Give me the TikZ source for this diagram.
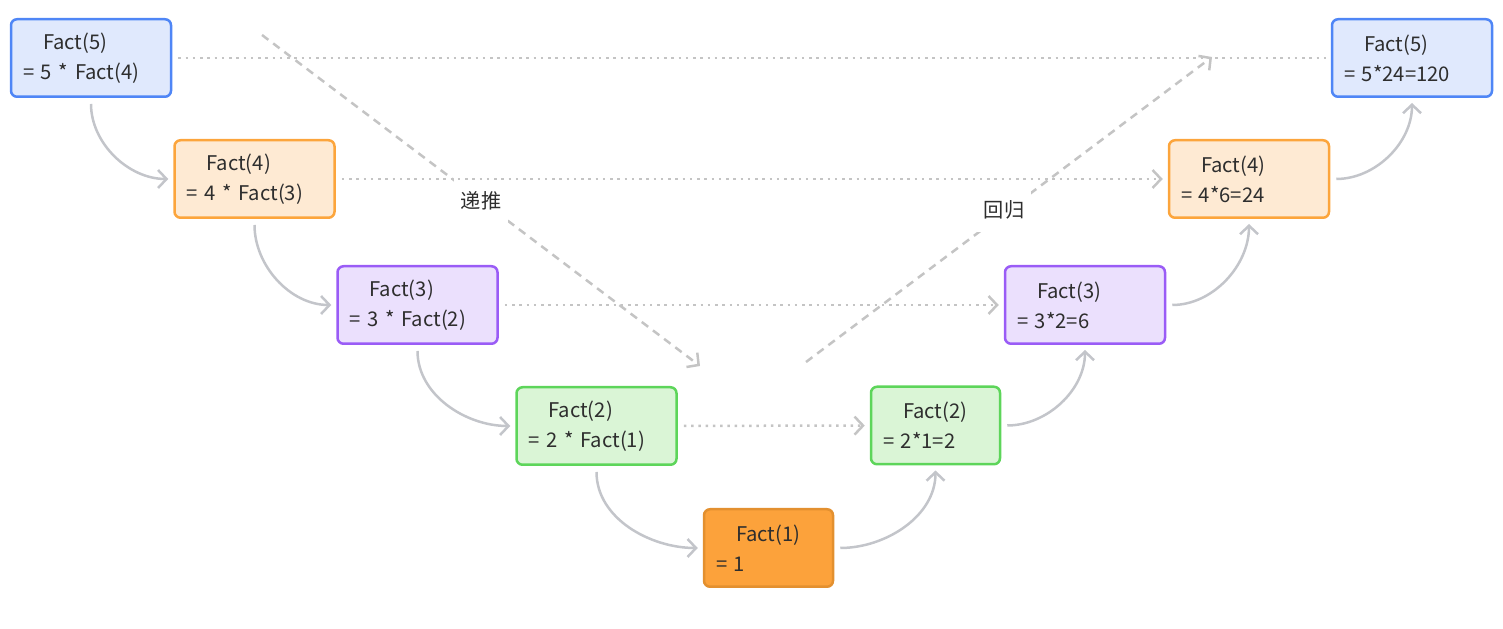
\documentclass[tikz,border=0pt]{standalone}
\usepackage{fontspec}
\setmainfont{Noto Sans CJK SC}
\usetikzlibrary{arrows.meta}

\definecolor{bluefill}{HTML}{E0E9FD}
\definecolor{bluedraw}{HTML}{4F86F6}
\definecolor{orangefill}{HTML}{FEEAD3}
\definecolor{orangedraw}{HTML}{FCA53C}
\definecolor{purplefill}{HTML}{EBE0FD}
\definecolor{purpledraw}{HTML}{9A5CF6}
\definecolor{greenfill}{HTML}{DAF5D6}
\definecolor{greendraw}{HTML}{5DD55A}
\definecolor{basefill}{HTML}{FCA23B}
\definecolor{basedraw}{HTML}{E3902F}
\definecolor{linkgray}{HTML}{C3C5CA}
\definecolor{dotgray}{HTML}{C4C4C4}
\definecolor{txtgray}{HTML}{2E2E2E}

\def\fact#1#2{\hspace*{0.4cm}Fact(#1)\\#2}

\tikzset{
  fbox/.style={draw, rounded corners=0.12cm, line width=0.05cm, minimum height=1.55cm,
    align=left, inner xsep=0.24cm, inner ysep=0.1cm, text=txtgray,
    font=\fontsize{11.5pt}{17pt}\selectfont},
  widebox/.style={fbox, text width=2.72cm},
  slimbox/.style={fbox, text width=2.1cm},
  bluebox/.style={fill=bluefill, draw=bluedraw},
  orangebox/.style={fill=orangefill, draw=orangedraw},
  purplebox/.style={fill=purplefill, draw=purpledraw},
  greenbox/.style={fill=greenfill, draw=greendraw},
  basebox/.style={fill=basefill, draw=basedraw},
  tip/.style={-{Straight Barb[length=0.17cm,width=0.36cm]}},
  flow/.style={draw=linkgray, line width=0.05cm, tip, shorten <=0.12cm, shorten >=0.1cm},
  pass/.style={draw=dotgray, line width=0.05cm, dash pattern=on 0.05cm off 0.095cm,
    shorten <=0.12cm, shorten >=0.1cm},
  trend/.style={draw=dotgray, line width=0.05cm, dash pattern=on 0.16cm off 0.12cm, tip},
  trendlabel/.style={fill=white, inner xsep=0.14cm, inner ysep=0.26cm, text=txtgray,
    font=\fontsize{11.5pt}{13pt}\selectfont}
}

\begin{document}
\begin{tikzpicture}
  \useasboundingbox (0,0) rectangle (30.06,12.56);

  % descending side
  \node[widebox, bluebox]   (l5) at (1.82,11.4)  {\fact{5}{= 5 * Fact(4)}};
  \node[widebox, orangebox] (l4) at (5.09,8.98)  {\fact{4}{= 4 * Fact(3)}};
  \node[widebox, purplebox] (l3) at (8.35,6.46)  {\fact{3}{= 3 * Fact(2)}};
  \node[widebox, greenbox]  (l2) at (11.93,4.04) {\fact{2}{= 2 * Fact(1)}};
  \node[slimbox, basebox]   (f1) at (15.37,1.6)  {\fact{1}{= 1}};

  % ascending side
  \node[slimbox, greenbox]  (r2) at (18.71,4.05) {\fact{2}{= 2*1=2}};
  \node[widebox, purplebox] (r3) at (21.70,6.46) {\fact{3}{= 3*2=6}};
  \node[widebox, orangebox] (r4) at (24.98,8.98) {\fact{4}{= 4*6=24}};
  \node[widebox, bluebox]   (r5) at (28.24,11.4) {\fact{5}{= 5*24=120}};

  % big trend arrows
  \coordinate (downA) at (5.24,11.86);
  \coordinate (downB) at (14.0,5.24);
  \coordinate (upA) at (16.12,5.32);
  \coordinate (upB) at (24.24,11.42);
  \draw[trend] (downA) -- node[trendlabel] {递推} (downB);
  \draw[trend] (upA) -- node[trendlabel, xshift=-0.1cm] {回归} (upB);

  % waiting results
  \draw[pass] (l5) -- (r5);
  \draw[pass, tip] (l4) -- (r4);
  \draw[pass, tip] (l3) -- (r3);
  \draw[pass, tip] (l2) -- (r2);

  % calls
  \draw[flow] (l5.south) to[out=-90, in=180] (l4.west);
  \draw[flow] (l4.south) to[out=-90, in=180] (l3.west);
  \draw[flow] (l3.south) to[out=-90, in=180] (l2.west);
  \draw[flow] (l2.south) to[out=-90, in=180] (f1.west);

  % returns
  \draw[flow] (f1.east) to[out=0, in=-90] (r2.south);
  \draw[flow] (r2.east) to[out=0, in=-90] (r3.south);
  \draw[flow] (r3.east) to[out=0, in=-90] (r4.south);
  \draw[flow] (r4.east) to[out=0, in=-90] (r5.south);
\end{tikzpicture}
\end{document}
